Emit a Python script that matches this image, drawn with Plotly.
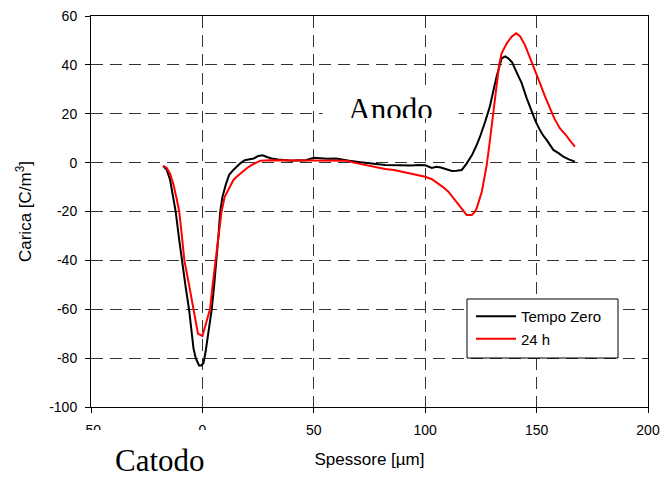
import plotly.graph_objects as go

# ---- data ----
x_tempo_zero = [-17.6, -16, -14.5, -13, -12, -10.5, -9.3, -7.5, -6, -5, -4, -3, -1.5, -0.5, 0.5, 1.5, 3, 4.2,
                5.3, 6.4, 7.2, 8, 9, 10.5, 12, 13.9, 15.5, 17, 19, 21, 23, 25, 27, 29, 31, 34, 37, 40, 43, 46,
                50, 53, 56, 60, 63, 66, 70, 74, 78, 82, 86, 90, 94, 97, 100, 103, 105, 107, 110, 112, 114,
                116.4, 118.5, 121, 123, 124.6, 127, 129, 130.5, 132, 134.3, 136, 137.5, 139, 141, 143.3,
                145.5, 147.8, 149.5, 151.5, 153, 154.5, 156, 157.5, 160, 162, 164.5, 167.2]
y_tempo_zero = [-1.3, -3, -7, -14, -20, -31, -40, -51, -60, -68, -76, -80, -83, -83, -82, -77, -67, -60,
                -50, -40, -30, -20, -14, -9, -5, -3, -1.5, -0.3, 1, 1.5, 1.7, 2.7, 3, 2.3, 1.7, 1.3, 1.0, 0.8,
                1.0, 0.9, 2.0, 1.8, 1.6, 1.7, 1.4, 0.8, 0.3, -0.3, -0.6, -1.0, -1.1, -1.0, -1.2, -1.0, -1.1,
                -2.2, -1.7, -2.0, -3.0, -3.4, -3.3, -3.0, -0.5, 3.1, 7, 10.6, 17, 22.9, 29, 35, 42.7, 43.5,
                42.5, 41, 37, 32.5, 26.5, 20.8, 17, 13.3, 11, 9.3, 7.5, 5.2, 3.8, 2.4, 1.3, 0.4]

x_24h = [-17.6, -16, -14.5, -13, -11.5, -10.4, -9.2, -8.1, -6, -4.1, -3, -2, 0, 1.5, 3.4, 4.6, 6, 7.3, 8.6,
         10, 12.1, 14, 15.4, 17.5, 19.9, 22, 24, 26, 30, 35, 40, 45, 50, 55, 60, 65, 68, 71, 74, 78, 82, 86,
         90, 94, 97, 100, 103, 105.5, 108, 110.4, 113, 115, 117, 118.6, 120.9, 122, 123.1, 124.3, 125.4,
         126.5, 127.6, 128.7, 129.8, 131, 132.1, 133.2, 134.3, 135.5, 136.6, 138.8, 140.8, 142.5, 144.8,
         147, 149.3, 151.5, 153.8, 156, 158, 160.5, 163, 165, 167.2]
y_24h = [-1.3, -2.2, -4.5, -9, -15, -20, -30, -40, -50, -60, -66, -70, -71, -66, -60, -50, -40, -30, -20,
         -14, -10, -7, -5.8, -4, -2.3, -1, 0, 0.8, 1, 1, 0.8, 0.8, 0.8, 0.8, 0.9, 0.8, 0, -0.6, -1.2, -2,
         -2.6, -3, -3.8, -4.8, -5.3, -5.8, -6.8, -8.3, -10, -11.9, -15, -17.4, -19.8, -21.4, -21.4, -20.5,
         -18.7, -15, -11.9, -6.5, -1, 6.5, 14.7, 24, 33.8, 40, 44.7, 47, 48.8, 51.5, 52.9, 51.8, 48.1, 43,
         37.9, 32.5, 27, 22.5, 18, 14, 11.5, 9, 6.5]

series_names = ["Tempo Zero", "24 h"]
x_tickvals = [-50, 0, 50, 100, 150, 200]
x_ticktext = ["-50", "0", "50", "100", "150", "200"]
y_tickvals = [-100, -80, -60, -40, -20, 0, 20, 40, 60]
y_ticktext = ["-100", "-80", "-60", "-40", "-20", "0", "20", "40", "60"]

W, H = 661, 477
L, R, T, B = 91, 13, 16, 70
PW, PH = W - L - R, H - T - B


def px_x(p):
    return (p - L) / PW


def px_y(p):
    return (H - B - p) / PH


SANS = "Liberation Sans, Arial, sans-serif"
SERIF = "Liberation Serif, Times New Roman, serif"
GRID = "#333333"

fig = go.Figure()
fig.add_trace(go.Scatter(x=x_tempo_zero, y=y_tempo_zero, mode="lines", name=series_names[0],
                         line=dict(color="black", width=2)))
fig.add_trace(go.Scatter(x=x_24h, y=y_24h, mode="lines", name=series_names[1],
                         line=dict(color="#ff0000", width=2)))

axis_common = dict(
    showline=True, linecolor="black", linewidth=1, mirror=True,
    showgrid=True, gridcolor=GRID, gridwidth=1, griddash="12px,7px",
    zeroline=False, ticks="outside", ticklen=5, tickcolor="black", tickwidth=1,
    tickfont=dict(family=SANS, size=14, color="black"),
)

fig.update_xaxes(range=[-50, 200], tickvals=x_tickvals, ticktext=x_ticktext,
                 ticklabelstandoff=5,
                 title=dict(text="Spessore [µm]", font=dict(family=SANS, size=17, color="black"), standoff=16),
                 **axis_common)
fig.update_yaxes(range=[-100, 60], tickvals=y_tickvals, ticktext=y_ticktext,
                 ticklabelstandoff=5,
                 title=dict(text="Carica [C/m<sup>3</sup>]", font=dict(family=SANS, size=17, color="black"),
                            standoff=13),
                 **axis_common)

# white box hiding the bottom of the first x tick labels (as in the reference)
fig.add_shape(type="rect", xref="paper", yref="paper",
              x0=px_x(66), x1=px_x(212), y0=px_y(430), y1=px_y(480),
              fillcolor="white", line=dict(width=0), layer="above")

# legend frame
fig.add_shape(type="rect", xref="paper", yref="paper",
              x0=px_x(467), x1=px_x(618), y0=px_y(358), y1=px_y(299),
              fillcolor="white", line=dict(color="black", width=1), layer="above")

fig.add_annotation(text="Catodo", xref="paper", yref="paper", x=px_x(159.5), y=px_y(460.5),
                   xanchor="center", yanchor="middle", showarrow=False,
                   font=dict(family=SERIF, size=31, color="black"))

fig.add_annotation(text="Anodo", xref="paper", yref="paper", x=px_x(322), y=px_y(91),
                   xanchor="left", yanchor="top", width=135, height=26, valign="top", align="center",
                   borderpad=0, bgcolor="white", showarrow=False,
                   font=dict(family=SERIF, size=31, color="black"))

fig.update_layout(
    width=W, height=H,
    margin=dict(l=L, r=R, t=T, b=B, autoexpand=False),
    paper_bgcolor="white", plot_bgcolor="white",
    showlegend=True,
    legend=dict(x=px_x(471), y=px_y(300), xanchor="left", yanchor="top",
                bgcolor="rgba(0,0,0,0)", borderwidth=0,
                font=dict(family=SANS, size=15, color="black"), itemwidth=40),
)

fig.write_html("out.html")
